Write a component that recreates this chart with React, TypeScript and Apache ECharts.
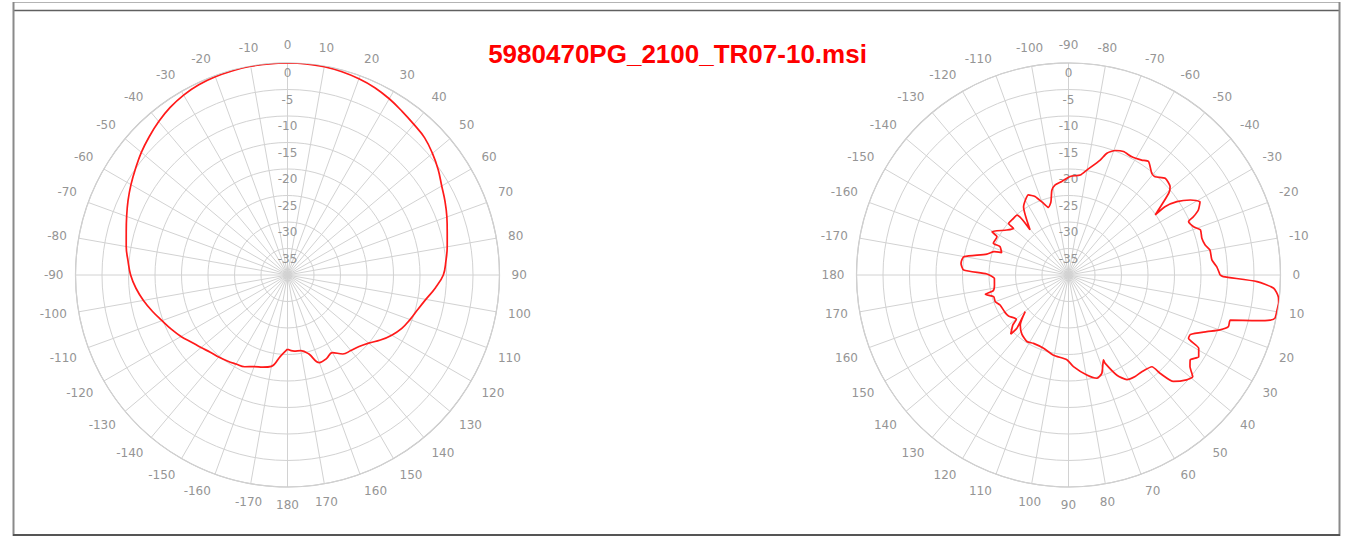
import React, { useEffect, useRef } from 'react';
import * as echarts from 'echarts';

const TITLE = '5980470PG_2100_TR07-10.msi';

// radial scale (dB)
const RADIAL_MIN = -40;
const RADIAL_MAX = 0;
const RADIAL_STEP = 5;

// Horizontal pattern: azimuth (deg, clockwise from top) and relative gain (dB)
const hAngles = [
  -180, -175, -170, -165, -160, -155, -150, -145, -140, -135, -130, -125, -120, -115, -110, -105,
  -100, -95, -90, -85, -80, -75, -70, -65, -60, -55, -50, -45, -40, -35, -30, -25, -20, -15, -10, -5,
  0, 5, 10, 15, 20, 25, 30, 35, 40, 45, 50, 55, 60, 65, 70, 75, 80, 85, 90, 95, 100, 105, 110, 115,
  120, 125, 130, 135, 140, 145, 150, 155, 160, 165, 170, 175, 180,
];
const hGain = [
  -26.0, -24.6, -22.5, -22.0, -21.6, -20.9, -20.6, -20.2, -19.8, -19.4, -18.7, -17.9, -16.8, -15.8, -14.8, -13.6,
  -12.4, -11.3, -10.4, -9.8, -9.1, -8.5, -7.7, -6.8, -5.9, -5.0, -4.0, -3.1, -2.2, -1.4, -0.8, -0.4, -0.2, -0.1, 0, 0,
  0, 0, -0.1, -0.3, -0.6, -1.0, -1.6, -2.3, -2.9, -3.4, -4.3, -5.3, -6.4, -7.2, -8.0, -8.8, -9.4, -10.0, -10.6, -12.0,
  -13.5, -14.6, -15.4, -16.2, -17.3, -18.6, -20.0, -20.9, -21.4, -21.8, -23.1, -22.6, -22.4, -24.6, -25.5, -25.6, -26.0,
];

// Vertical pattern: elevation angle (deg, clockwise from right-hand horizontal, path order)
const vAngles = [
  0, 0.6, 2.0, 3.7, 5.9, 7.6, 9.5, 11.8, 12.6, 13.6, 15.6, 17.9, 19.9, 22.3, 26.0, 27.8, 29.4, 32.1,
  34.9, 37.0, 39.3, 41.6, 45.4, 47.0, 47.7, 52.8, 56.7, 60.8, 64.2, 67.5, 67.6, 71.3, 74.7, 79.6,
  86.9, 91.1, 100.6, 108.8, 117.1, 122.0, 128.3, 134.0, 139.8, 137.6, 134.1, 134.3, 138.1, 139.7,
  145.7, 149.3, 156.3, 160.0, 163.9, 166.9, 168.2, 172.3, 177.4, 180.7, 182.7, 186.2, 188.4, 190.0,
  194.4, 197.4, 198.5, 202.5, 202.9, 208.1, 209.5, 216.1, 220.3, 220.7, 225.9, 229.3, 229.6, 236.6,
  243.4, 246.9, 250.8, 253.5, 256.5, 258.9, 261.6, 265.9, 271.0, 276.7, 279.9, 285.4, 287.5, 290.6,
  294.0, 298.2, 302.5, 305.2, 309.3, 311.4, 315.0, 319.0, 320.8, 325.3, 324.7, 325.9, 328.4, 330.9,
  333.4, 335.0, 336.0, 338.9, 341.1, 344.6, 347.6, 350.0, 354.0, 356.8, 360,
];
const vGain = [
  -11.4, -10.8, -4.4, -1.2, -0.2, 0, -0.1, -0.2, -1.0, -3.4, -8.3, -8.3, -9.6, -11.8, -14.4, -14.4, -11.8, -11.0,
  -12.0, -11.3, -9.7, -10.2, -11.8, -14.6, -16.6, -17.1, -17.1, -17.4, -19.0, -22.0, -22.7, -20.4, -19.8, -20.8,
  -22.7, -24.0, -24.6, -25.4, -25.5, -25.2, -25.8, -26.9, -29.3, -28.3, -26.0, -24.4, -25.9, -27.1,
  -26.3, -26.1, -25.9, -25.3, -25.3, -23.9, -25.5, -25.9, -26.0, -24.6, -20.2, -19.6, -19.7, -20.0,
  -24.1, -25.3, -26.7, -26.0, -24.6, -24.7, -23.4, -25.6, -26.4, -25.1, -25.1, -25.1, -28.8, -24.6,
  -23.1, -23.9, -25.7, -26.7, -25.8, -23.7, -22.8, -22.3, -21.4, -21.0, -19.9, -17.5, -15.9, -14.9,
  -14.5, -14.7, -14.3, -13.8, -15.2, -15.3, -14.2, -14.6, -15.6, -20.1, -17.7, -15.3, -13.0, -11.6,
  -12.6, -14.0, -15.2, -14.7, -13.7, -13.9, -13.6, -12.9, -12.8, -12.0, -11.4,
];

const LABEL_COLOR = '#959595';
const GRID_COLOR = '#d2d2d2';
const LABEL_FONT = 'DejaVu Sans';

function angleAxisFor(polarIndex: number, min: number, max: number) {
  return {
    polarIndex,
    type: 'value',
    min,
    max,
    interval: 10,
    startAngle: 90,
    clockwise: true,
    axisLine: { show: true, lineStyle: { color: '#c4c4c4', width: 1.2 } },
    axisTick: { show: false },
    axisLabel: {
      margin: 12,
      color: LABEL_COLOR,
      fontSize: 12,
      fontFamily: LABEL_FONT,
      formatter: (v: number) => String(v > 180 ? v - 360 : v),
    },
    splitLine: { show: true, lineStyle: { color: GRID_COLOR, width: 1 } },
  };
}

function radiusAxisFor(polarIndex: number) {
  return {
    polarIndex,
    type: 'value',
    min: RADIAL_MIN,
    max: RADIAL_MAX,
    interval: RADIAL_STEP,
    axisLine: { show: false },
    axisTick: { show: false },
    axisLabel: {
      margin: 0,
      align: 'center',
      verticalAlign: 'top',
      padding: [4, 0, 0, 0],
      color: LABEL_COLOR,
      fontSize: 12,
      fontFamily: LABEL_FONT,
      formatter: (v: number) => (v === RADIAL_MIN ? '' : String(v)),
    },
    splitLine: { show: true, lineStyle: { color: GRID_COLOR, width: 1 } },
    z: 1,
  };
}

export default function App() {
  const ref = useRef<HTMLDivElement>(null);

  useEffect(() => {
    if (!ref.current) return;
    const chart = echarts.init(ref.current, undefined, { renderer: 'svg' });

    const hData = hAngles.map((a, i) => [hGain[i], a < 0 ? a + 360 : a]);
    const vData = vAngles.map((a, i) => [vGain[i], a >= 270 ? a - 360 : a]);

    chart.setOption({
      animation: false,
      backgroundColor: '#ffffff',
      polar: [
        { center: [287.5, 275], radius: 212 },
        { center: [1068.5, 275], radius: 212 },
      ],
      angleAxis: [angleAxisFor(0, 0, 360), angleAxisFor(1, -90, 270)],
      radiusAxis: [radiusAxisFor(0), radiusAxisFor(1)],
      series: [
        {
          type: 'line',
          coordinateSystem: 'polar',
          polarIndex: 0,
          data: hData,
          showSymbol: false,
          symbol: 'none',
          smooth: 0.4,
          lineStyle: { color: '#ff1a1a', width: 1.7 },
          z: 5,
        },
        {
          type: 'line',
          coordinateSystem: 'polar',
          polarIndex: 1,
          data: vData,
          showSymbol: false,
          symbol: 'none',
          smooth: 0.2,
          lineStyle: { color: '#ff1a1a', width: 1.7 },
          z: 5,
        },
      ],
      graphic: [
        { type: 'line', shape: { x1: 13, y1: 2.5, x2: 1340, y2: 2.5 }, style: { stroke: '#b4b4b4', lineWidth: 1 } },
        { type: 'line', shape: { x1: 13, y1: 10.5, x2: 1340, y2: 10.5 }, style: { stroke: '#606060', lineWidth: 1.5 } },
        { type: 'line', shape: { x1: 13.5, y1: 2, x2: 13.5, y2: 536 }, style: { stroke: '#8a8a8a', lineWidth: 2 } },
        { type: 'line', shape: { x1: 1339.5, y1: 2, x2: 1339.5, y2: 536 }, style: { stroke: '#8a8a8a', lineWidth: 2 } },
        { type: 'line', shape: { x1: 13, y1: 535, x2: 1340, y2: 535 }, style: { stroke: '#555555', lineWidth: 2 } },
        {
          type: 'text',
          x: 677.5,
          y: 53.5,
          style: {
            text: TITLE,
            fill: '#ff0000',
            fontSize: 26,
            fontWeight: 'bold',
            fontFamily: 'Liberation Sans, Arial, sans-serif',
            align: 'center',
            verticalAlign: 'middle',
          },
          z: 10,
        },
      ],
    });

    return () => chart.dispose();
  }, []);

  return (
    <div
      ref={ref}
      style={{ position: 'fixed', left: 0, top: 0, width: 1353, height: 538, background: '#fff' }}
    />
  );
}
